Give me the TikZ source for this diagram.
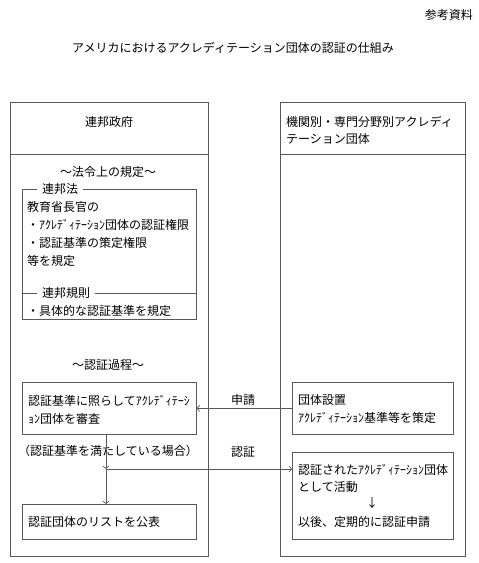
\documentclass[tikz,border=0pt]{standalone}
\usepackage{fontspec}
\setmainfont{Noto Sans CJK JP}
\usetikzlibrary{arrows.meta}
\begin{document}
\begin{tikzpicture}[x=1pt,y=-1pt,
  box/.style={draw=black!65, line width=0.7pt, inner sep=0pt, anchor=north west},
  txt/.style={inner sep=0pt, anchor=west, font=\fontsize{12}{14}\selectfont},
  ctxt/.style={inner sep=0pt, anchor=center, font=\fontsize{12}{14}\selectfont},
  legend/.style={fill=white, inner xsep=5pt, inner ysep=0pt, anchor=west, font=\fontsize{12}{14}\selectfont},
  arr/.style={draw=black!65, line width=0.7pt, -{Straight Barb[length=2.5pt,width=6pt]}},
  ln/.style={draw=black!65, line width=0.7pt}]
\useasboundingbox[fill=white] (0,0) rectangle (479,563);
% header texts
\node[inner sep=0pt, anchor=east, font=\fontsize{12}{14}\selectfont] (ref) at (473,15) {参考資料};
\node[ctxt] (title) at (233,48) {アメリカにおけるアクレディテーション団体の認証の仕組み};
% big columns
\node[box, minimum width=198pt, minimum height=454pt] (fed) at (10,102) {};
\node[box, minimum width=185pt, minimum height=454pt] (acc) at (280,102) {};
\draw[ln] (fed.west |- 0,154) -- (fed.east |- 0,154);
\draw[ln] (acc.west |- 0,154) -- (acc.east |- 0,154);
\node[ctxt] (fedt) at (109,122) {連邦政府};
\node[txt] (acct1) at (286,122) {機関別・専門分野別アクレディ};
\node[txt] (acct2) at (286,139) {テーション団体};
% legal provisions
\node[ctxt] (lawh) at (108,172) {〜法令上の規定〜};
\node[box, minimum width=174pt, minimum height=130pt] (law) at (22,189) {};
\draw[ln] (law.west |- 0,293) -- (law.east |- 0,293);
\node[legend] (lawl) at (37,189) {連邦法};
\node[legend] (regl) at (37,293) {連邦規則};
\node[txt] (l1) at (27,207) {教育省長官の};
\node[txt] (l2) at (27,225) {・ｱｸﾚﾃﾞｨﾃｰｼｮﾝ団体の認証権限};
\node[txt] (l3) at (27,243) {・認証基準の策定権限};
\node[txt] (l4) at (27,261) {等を規定};
\node[txt] (l5) at (27,311) {・具体的な認証基準を規定};
% process
\node[ctxt] (proch) at (108,365) {〜認証過程〜};
\node[box, minimum width=174pt, minimum height=52pt] (review) at (22,382) {};
\node[txt] (r1) at (28,401) {認証基準に照らしてｱｸﾚﾃﾞｨﾃｰｼ};
\node[txt] (r2) at (28,419) {ｮﾝ団体を審査};
\node[ctxt] (cond) at (108,451) {（認証基準を満たしている場合）};
\node[box, minimum width=174pt, minimum height=35pt] (list) at (22,504) {};
\node[txt] (lt) at (28,522) {認証団体のリストを公表};
% right side
\node[box, minimum width=161pt, minimum height=52pt] (apply) at (292,382) {};
\node[txt] (a1) at (298,400) {団体設置};
\node[txt] (a2) at (298,418) {ｱｸﾚﾃﾞｨﾃｰｼｮﾝ基準等を策定};
\node[box, minimum width=161pt, minimum height=87pt] (cert) at (292,452) {};
\node[txt] (c1) at (298,470) {認証されたｱｸﾚﾃﾞｨﾃｰｼｮﾝ団体};
\node[txt] (c2) at (298,487) {として活動};
\node[ctxt] (c3) at (372,503) {↓};
\node[txt] (c4) at (298,522) {以後、定期的に認証申請};
% connectors
\node[ctxt] (shinsei) at (243,400) {申請};
\node[ctxt] (ninsho) at (243,452) {認証};
\draw[arr] (apply.west) -- (review.east);
\coordinate (j) at (106,469);
\draw[arr] (j |- review.south) -- (j);
\draw[arr] (j) -- (j |- list.north);
\draw[arr] (j) -- (j -| cert.west);
\end{tikzpicture}
\end{document}
